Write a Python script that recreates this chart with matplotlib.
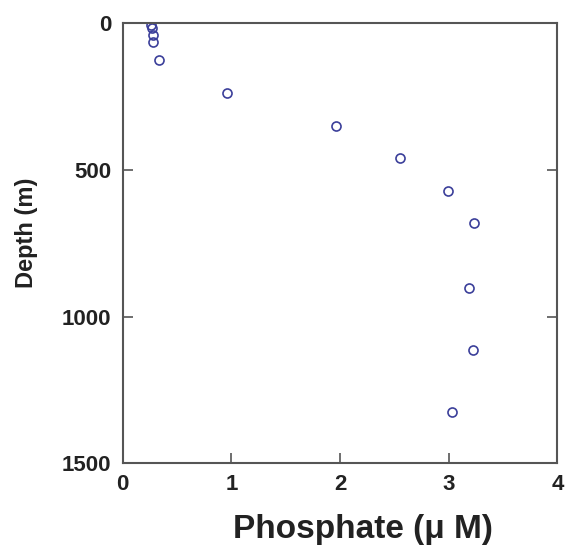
import matplotlib
matplotlib.use("Agg")
import matplotlib.pyplot as plt

# phosphate profile (uM) vs depth (m)
phosphate = [0.26, 0.27, 0.28, 0.28, 0.33, 0.96, 1.96, 2.55, 2.99, 3.23, 3.19, 3.22, 3.03]
depth = [6, 17, 40, 63, 125, 239, 350, 458, 570, 680, 902, 1114, 1324]

xticks = [0, 1, 2, 3, 4]
yticks = [0, 500, 1000, 1500]

plt.rcParams['font.family'] = ['Liberation Sans', 'DejaVu Sans']
plt.rcParams['font.weight'] = 'bold'

fig = plt.figure(figsize=(5.8, 5.46), dpi=100)
ax = fig.add_axes([0.2116, 0.1515, 0.7494, 0.8058])

ax.plot(phosphate, depth, linestyle='none', marker='o', markersize=6.5,
        markerfacecolor='none', markeredgecolor='#3b3f9a', markeredgewidth=1.2)

ax.set_xlim(0, 4)
ax.set_ylim(1500, 0)
ax.set_xticks(xticks)
ax.set_yticks(yticks)
ax.tick_params(direction='in', length=7, width=1.2, color='#555555',
               labelsize=16, right=True, top=False, pad=8)
for lab in ax.get_xticklabels() + ax.get_yticklabels():
    lab.set_fontweight('bold')
    lab.set_color('#222222')
for s in ax.spines.values():
    s.set_linewidth(1.5)
    s.set_color('#555555')

# axis titles placed by hand to match the original layout
fig.text(363/580, 8/546, "Phosphate (\u03bc M)", fontsize=24, fontweight='bold',
         color='#222222', ha='center', va='baseline')
fig.text(27/580, 1-233/546, "Depth (m)", fontsize=17, fontweight='bold',
         color='#222222', ha='center', va='center', rotation=90)

fig.savefig("out.png", dpi=100)
